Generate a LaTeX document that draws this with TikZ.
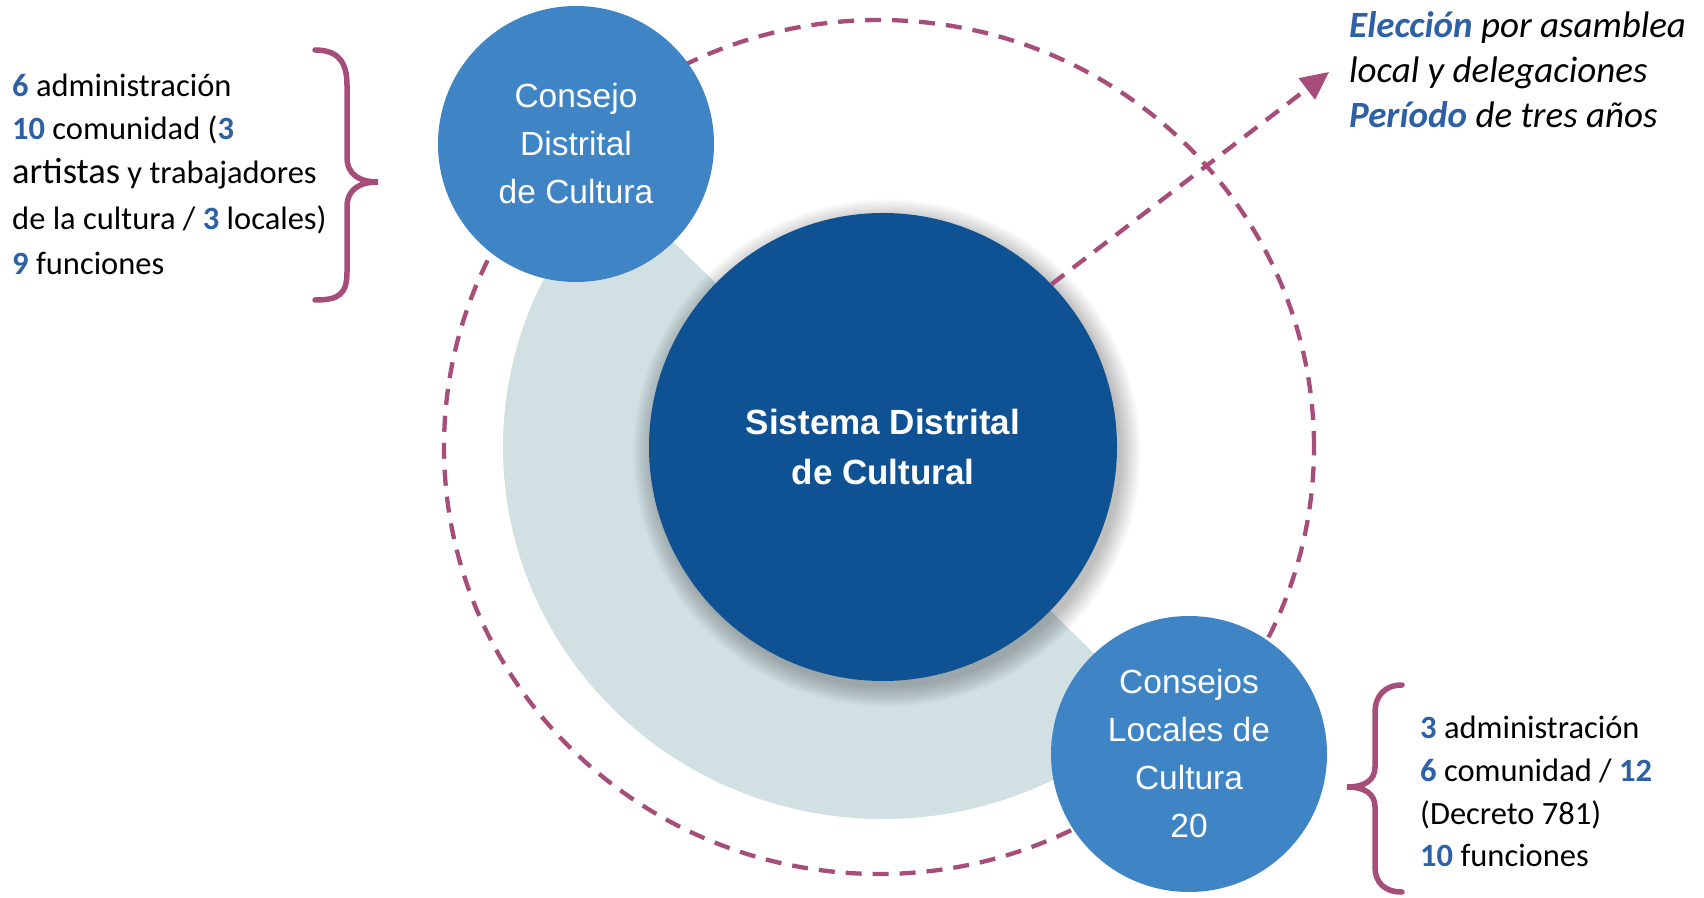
\documentclass[tikz,border=0pt]{standalone}
\usepackage{fontspec}
\setmainfont{Carlito}
\newfontfamily\circfont{Liberation Sans}
\usetikzlibrary{arrows.meta}
\definecolor{lightbg}{RGB}{208,224,227}
\definecolor{darkblue}{RGB}{14,82,147}
\definecolor{midblue}{RGB}{63,133,198}
\definecolor{magen}{RGB}{166,77,121}
\definecolor{numblue}{RGB}{46,96,166}
\newcommand{\numb}[1]{\textcolor{numblue}{\textbf{#1}}}
\begin{document}
\begin{tikzpicture}[x=1pt,y=1pt,
  dashline/.style={draw=magen, line width=4.3pt, dash pattern=on 16pt off 11pt},
  bracestyle/.style={draw=magen, line width=5.5pt, line cap=round},
  smallcirc/.style={circle, fill=midblue, minimum size=276pt, inner sep=0pt, align=center, text=white, font=\circfont\fontsize{33.5}{48}\selectfont},
  bigcirc/.style={circle, fill=darkblue, minimum size=468pt, inner sep=0pt, align=center, text=white, font=\circfont\bfseries\fontsize{35}{50}\selectfont},
  bodytext/.style={anchor=base west, inner sep=0pt, font=\fontsize{32.5}{44}\selectfont},
  notetext/.style={anchor=base west, inner sep=0pt, font=\itshape\fontsize{37}{45}\selectfont},
]
\useasboundingbox (0,0) rectangle (1704,897);
\fill[white] (0,0) rectangle (1704,897);
% dashed outer ring
\draw[dashline] (879,450) ellipse [x radius=435, y radius=427];
% light half disk
\fill[lightbg] (883,450) ++({-380*cos(45)},{372*sin(45)}) arc[start angle=135, end angle=315, x radius=380, y radius=372] -- cycle;
% soft shadow of the central circle
\foreach \i in {1,...,16} \fill[black,opacity=0.016] (887,444) circle[radius=233+\i*1.3];
% central circle
\node[bigcirc] (dark) at (883,450) {Sistema Distrital\\de Cultural};
% small circles
\node[smallcirc] (cdc) at (576,753) {Consejo\\Distrital\\de Cultura};
\node[smallcirc] (clc) at (1189,143) {Consejos\\Locales de\\Cultura\\20};
% arrow
\coordinate (tip) at (1329,825);
\draw[dashline, -{Triangle[length=28pt,width=26pt]}] (dark.44.5) -- (tip);
% braces
\draw[bracestyle] (315,847) .. controls (338,847) and (347,835) .. (347,812) -- (347,740) .. controls (347,722) and (360,715) .. (378,715) .. controls (360,715) and (347,708) .. (347,690) -- (347,625) .. controls (347,602) and (338,597) .. (315,597);
\draw[bracestyle] (1402,212) .. controls (1384,212) and (1375,200) .. (1375,185) -- (1375,130) .. controls (1375,117) and (1365,110) .. (1347,110) .. controls (1365,110) and (1375,103) .. (1375,90) -- (1375,30) .. controls (1375,15) and (1384,5) .. (1402,5);
% left text
\node[bodytext] (l1) at (12,800) {\numb{6} administración};
\node[bodytext] (l2) at (12,757) {\numb{10} comunidad (\numb{3}};
\node[bodytext] (l3) at (12,713) {{\fontsize{36.5}{44}\selectfont artistas} y trabajadores};
\node[bodytext] (l4) at (12,667) {de la cultura / \numb{3} locales)};
\node[bodytext] (l5) at (12,622) {\numb{9} funciones};
% top-right text
\node[notetext] (r1) at (1349,859) {\textcolor{numblue}{\textbf{Elección}} por asamblea};
\node[notetext] (r2) at (1349,814) {local y delegaciones};
\node[notetext] (r3) at (1349,769) {\textcolor{numblue}{\textbf{Período}} de tres años};
% bottom-right text
\node[bodytext] (b1) at (1420,159) {\numb{3} administración};
\node[bodytext] (b2) at (1420,116) {\numb{6} comunidad / \numb{12}};
\node[bodytext] (b3) at (1420,73) {(Decreto 781)};
\node[bodytext] (b4) at (1420,31) {\numb{10} funciones};
\end{tikzpicture}
\end{document}
